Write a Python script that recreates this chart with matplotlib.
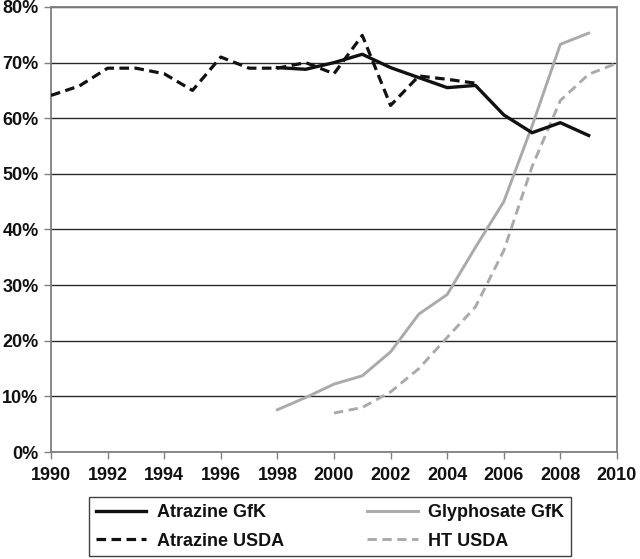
import matplotlib
matplotlib.use("Agg")
import matplotlib.pyplot as plt
from matplotlib.ticker import PercentFormatter

plt.rcParams['font.family'] = ['Liberation Sans', 'DejaVu Sans']
plt.rcParams['font.weight'] = 'bold'

# valores (em %)
anos_atr_usda = list(range(1990, 2006))
atrazina_usda = [64.1, 65.8, 69.0, 69.0, 68.0, 65.0, 71.0, 69.0, 69.0, 70.0,
                 68.0, 74.9, 62.3, 67.6, 67.0, 66.3]

anos_atr_gfk = list(range(1998, 2010))
atrazina_gfk = [69.1, 68.8, 70.0, 71.5, 69.1, 67.3, 65.5, 65.9, 60.6, 57.4, 59.2, 56.9]

anos_gli_gfk = list(range(1998, 2010))
glifosato_gfk = [7.6, 9.8, 12.2, 13.7, 18.0, 24.8, 28.3, 36.8, 45.0, 58.6, 73.3, 75.3]

anos_ht_usda = list(range(2000, 2011))
ht_usda = [7.0, 8.0, 10.8, 15.0, 20.6, 26.1, 36.2, 51.3, 63.2, 67.9, 69.9]

preto = '#111111'
cinza = '#aaaaaa'

fig = plt.figure(figsize=(6.4, 5.59), dpi=100)
ax = fig.add_axes([0.0797, 0.1914, 0.8843, 0.7961])

ax.plot(anos_atr_gfk, atrazina_gfk, color=preto, lw=2.4, label='Atrazine GfK', zorder=4)
ax.plot(anos_gli_gfk, glifosato_gfk, color=cinza, lw=2.1, label='Glyphosate GfK', zorder=3)
ax.plot(anos_atr_usda, atrazina_usda, color=preto, lw=2.3, dashes=(3, 1.7),
        label='Atrazine USDA', zorder=5)
ax.plot(anos_ht_usda, ht_usda, color=cinza, lw=2.1, dashes=(3.2, 1.9),
        label='HT USDA', zorder=3)

ax.set_xlim(1990, 2010)
ax.set_ylim(0, 80)
ax.set_xticks(range(1990, 2011, 2))
ax.set_yticks(range(0, 81, 10))
ax.yaxis.set_major_formatter(PercentFormatter(decimals=0))
ax.tick_params(axis='both', labelsize=13, direction='out', length=5,
               color='#808080', width=1)
ax.tick_params(axis='x', pad=6)
ax.tick_params(axis='y', pad=4)
for lab in ax.get_xticklabels() + ax.get_yticklabels():
    lab.set_fontweight('bold')
    lab.set_color('#111111')

ax.grid(axis='y', color='#2a2a2a', lw=1.0)
ax.set_axisbelow(True)
for s in ax.spines.values():
    s.set_color('#808080')
    s.set_linewidth(1.3)

# legenda em duas colunas, abaixo do grafico
h, l = ax.get_legend_handles_labels()
ordem = [0, 2, 1, 3]
leg = fig.legend([h[i] for i in ordem], [l[i] for i in ordem], ncol=2,
                 loc='upper center', bbox_to_anchor=(330 / 640, 1 - 497 / 559),
                 frameon=True, fancybox=False, edgecolor='#111111',
                 prop={'size': 13, 'weight': 'bold'}, handlelength=2.8,
                 handletextpad=0.6, columnspacing=4.6, labelspacing=0.65,
                 borderpad=0.38, borderaxespad=0)
leg.get_frame().set_linewidth(1.0)
for t in leg.get_texts():
    t.set_color('#111111')

fig.savefig('out.png', dpi=100)
